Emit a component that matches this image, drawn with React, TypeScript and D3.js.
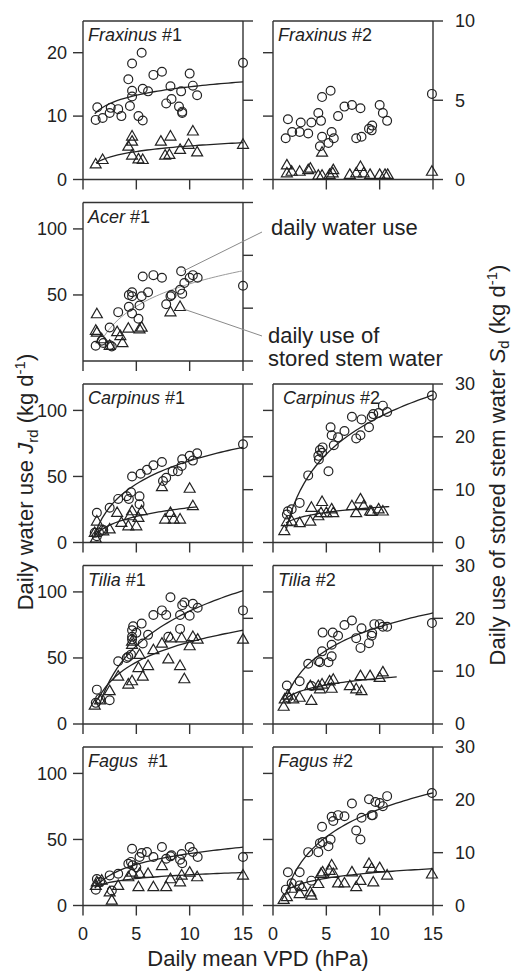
import React from 'react';
import * as d3 from 'd3';

type Pt = [number, number];
type Fit = [number, number, number, number]; // a, b, xFrom, xTo  (y = a + b ln x)

const X_DOMAIN: [number, number] = [0, 15];
const X_TICKS = [0, 5, 10, 15];

const ROW_LEFT_DOMAINS: [number, number][] = [[0, 25], [0, 120], [0, 120], [0, 120], [0, 120]];
const ROW_LEFT_TICKS = [[0, 10, 20], [50, 100], [0, 50, 100], [0, 50, 100], [0, 50, 100]];
const ROW_RIGHT_DOMAINS: [number, number][] = [[0, 10], [0, 30], [0, 30], [0, 30], [0, 30]];
const ROW_RIGHT_TICKS = [[0, 5, 10], [0, 10, 20, 30], [0, 10, 20, 30], [0, 10, 20, 30], [0, 10, 20, 30]];

const fraxinus1Circles: Pt[] = [[1.19,9.4],[1.34,11.4],[1.84,9.7],[2.5,10.5],[2.6,11.3],[3.3,11.1],[3.6,10.0],[4.25,15.8],[4.4,11.6],[4.6,18.3],[4.6,14.0],[4.6,13.1],[5.2,10.0],[5.5,20.0],[5.6,9.3],[5.6,14.3],[6.1,13.9],[6.6,16.5],[7.4,17.0],[7.8,12.0],[8.2,14.7],[8.3,12.7],[9.2,13.9],[9.0,11.5],[9.3,10.7],[9.3,10.5],[10.0,16.7],[10.3,14.8],[10.7,13.3],[15,18.4]];
const fraxinus1Triangles: Pt[] = [[1.19,2.4],[1.84,3.1],[4.6,6.8],[4.6,6.0],[4.25,5.2],[4.6,3.8],[5.2,3.2],[5.6,3.1],[7.3,6.0],[8.2,6.8],[7.7,3.8],[8.1,3.9],[9.1,4.7],[10.3,7.6],[9.9,5.5],[10.7,4.3],[15,5.5]];
const fraxinus1Fits: Fit[] = [[10.2, 1.92, 1.1, 15], [2.37, 1.27, 1.2, 15]];

const fraxinus2Circles: Pt[] = [[1.19,2.6],[1.4,3.8],[1.8,3.0],[2.5,3.0],[2.6,3.6],[3.3,2.9],[3.6,3.6],[4.25,4.2],[4.5,3.7],[4.6,5.2],[4.6,2.7],[4.4,2.1],[5.2,2.3],[5.4,5.6],[5.5,3.0],[5.7,2.6],[6.1,4.0],[6.7,4.6],[7.4,4.7],[7.8,2.6],[8.3,2.7],[8.2,4.5],[9.0,3.2],[9.25,3.1],[9.3,3.4],[10.0,4.7],[10.3,4.2],[10.7,3.7],[14.9,5.4]];
const fraxinus2Triangles: Pt[] = [[1.3,0.9],[1.3,0.4],[1.75,0.5],[2.5,0.5],[3.5,0.7],[3.3,0.6],[4.6,1.7],[4.25,0.25],[4.6,0.25],[5.3,0.3],[5.65,0.6],[5.6,0.4],[7.2,0.3],[8.2,0.8],[7.8,0.4],[8.5,0.4],[9.1,0.3],[10.0,0.3],[10.5,0.3],[10.75,0.3],[14.9,0.5]];
const fraxinus2Fits: Fit[] = [];

const acer1Circles: Pt[] = [[1.19,11.6],[1.75,15.3],[1.9,13.6],[2.5,25.4],[2.5,12],[2.7,11],[3.3,37],[4.3,50],[4.6,52],[4.3,41],[4.6,36],[4.6,49],[5.2,32],[5.3,42],[5.5,49],[5.6,64],[6.1,52],[6.6,65],[7.4,63],[9.2,68],[7.8,43],[8.2,49],[8.3,50],[9.1,54],[9.3,51],[9.5,59],[10.0,63],[10.3,65],[10.75,63],[15,57]];
const acer1Triangles: Pt[] = [[1.3,35.5],[1.2,23],[1.3,21.6],[1.75,16.6],[2.5,11.6],[3.2,22],[3.5,19],[3.7,13.6],[4.25,24.6],[5.5,25.4],[5.3,24],[8.2,37],[9.1,41]];
const acer1Fits: Fit[] = [[2, 24.5, 2, 15]];

const carpinus1Circles: Pt[] = [[1.3,22.5],[1.1,7.3],[1.3,4.8],[2.5,26.3],[3.3,33],[4.1,35],[4.5,38],[4.6,50],[4.3,33],[5.3,35],[5.3,29],[5.4,52],[6.0,55],[6.6,58.5],[7.4,61],[7.5,46.6],[7.8,49],[8.4,54],[8.9,54],[9.25,58],[9.3,63],[10,65.6],[10.3,62],[10.7,67.6],[15,74.4],[1.5,7.6],[1.9,9.5]];
const carpinus1Triangles: Pt[] = [[1.1,7.3],[1.3,16],[1.9,8.6],[2.5,10],[3.2,22.5],[3.6,15],[4.25,12.4],[4.4,20],[4.6,23.8],[5.0,12.4],[5.2,18.7],[5.5,23.8],[7.4,42],[7.7,17.5],[8.2,22.5],[8.5,17.5],[9.1,17.5],[10,40.8],[10.3,27.6],[1.2,3]];
const carpinus1Fits: Fit[] = [[3.6, 25.3, 1.1, 15], [4.4, 9.55, 1.1, 10.7]];

const carpinus2Circles: Pt[] = [[1.3,5.3],[1.4,5.9],[1.75,6.3],[2.5,7.5],[3.3,12.7],[4.25,16.4],[4.4,17.5],[4.6,17],[4.3,15.7],[4.65,18],[5.2,13.5],[5.4,21.8],[5.5,20.3],[5.7,18.4],[6.1,19.9],[6.7,21.1],[7.4,23.8],[7.8,19.7],[8.2,20.3],[8.3,23.3],[9.0,21.8],[9.25,23.8],[9.4,24.3],[9.9,24.5],[10.3,25.9],[10.7,24.7],[14.9,27.8]];
const carpinus2Triangles: Pt[] = [[1.06,2.2],[1.3,3.9],[1.75,4.0],[2.5,3.7],[3.5,4.0],[3.6,6.6],[4.25,5.0],[4.6,7.7],[4.5,5.6],[5.0,5.6],[5.5,6.3],[5.65,5.6],[7.4,6.9],[7.8,5.6],[8.2,8.2],[8.5,6.9],[9.1,5.9],[9.25,5.8],[9.9,6.3],[10.3,5.9]];
const carpinus2Fits: Fit[] = [[0.3, 10.2, 1.2, 15], [3.43, 1.41, 1.2, 10.9]];

const tilia1Circles: Pt[] = [[1.3,26],[1.2,16],[1.6,19],[2.5,18],[3.3,47.5],[4.25,51],[4.5,52.5],[4.6,71],[4.6,64],[4.7,74],[5.0,69],[5.5,76],[5.6,61],[6.1,67.5],[6.6,82.5],[7.4,86],[7.8,82.5],[8.2,96],[8.0,66],[9.1,72],[9.1,82.5],[9.3,90],[9.5,92],[10,82],[10.3,91],[10.75,88],[15,86],[4.6,66],[4.1,50]];
const tilia1Triangles: Pt[] = [[1.1,14],[1.6,18],[2.5,25],[3.3,36],[4.25,30],[4.6,32.5],[4.6,62.5],[4.6,60],[5.2,42.5],[5.3,52.5],[5.6,36],[6.1,44],[6.6,56],[7.4,61],[8.0,49],[8.2,65],[9.1,44],[9.25,65],[9.5,34],[10,59],[10.3,66],[10.75,64],[15,64]];
const tilia1Fits: Fit[] = [[-2, 38, 1.5, 15], [11.4, 22, 1.4, 15]];

const tilia2Circles: Pt[] = [[1.3,7.3],[1.4,5],[2.5,8.1],[3.3,11.4],[3.6,7.2],[4.25,11.9],[4.4,11.7],[4.6,13.75],[4.65,17.3],[5.2,11.7],[5.5,12.8],[5.5,15],[5.6,17.3],[6.1,16.7],[6.7,18.75],[7.4,19.6],[7.8,16.25],[8.2,14.4],[8.3,18.1],[9.0,15.3],[9.25,16.7],[9.3,17.2],[9.5,18.9],[10,18.9],[10.3,18.4],[10.7,18.4],[14.9,19.1]];
const tilia2Triangles: Pt[] = [[1.0,3.3],[1.1,4.7],[1.4,5.4],[1.9,4.7],[2.5,5],[3.5,7.2],[3.6,4.4],[4.25,7.2],[4.6,7.5],[4.4,6.6],[5.3,8.1],[5.5,6.7],[5.65,8.4],[7.2,7.2],[7.8,6.6],[8.3,6.25],[8.2,9.1],[9.1,9.1],[10.0,8.75],[10.3,9.8]];
const tilia2Fits: Fit[] = [[3.6, 6.43, 1.3, 15], [4.5, 1.8, 1.0, 11.6]];

const fagus1Circles: Pt[] = [[1.2,12],[1.3,20],[1.6,17.7],[2.5,22.8],[2.7,11.4],[3.3,24],[4.25,31.6],[4.6,43],[4.5,33],[4.65,30.4],[5.0,29],[5.3,36.7],[5.5,39.7],[6.0,40.5],[6.6,36.7],[7.4,44.3],[7.8,35.4],[8.2,37.2],[8.3,38],[9.1,34.7],[9.3,32],[9.25,39],[10,44.3],[10.3,40.5],[10.75,36.7],[15,36.7]];
const fagus1Triangles: Pt[] = [[1.2,15],[1.3,17.7],[1.75,19],[2.7,3.8],[2.5,10],[3.3,15],[4.25,21.5],[4.6,25],[5.3,24],[5.2,14],[6.1,24],[6.6,14],[7.4,30],[7.8,14],[8.2,20],[9.1,17.7],[9.25,22.8],[10,25],[10.7,21.5],[15,22.8]];
const fagus1Fits: Fit[] = [[11.9, 11.9, 1.1, 15], [13.6, 4.2, 1.1, 15]];

const fagus2Circles: Pt[] = [[1.2,3.0],[1.4,6.3],[1.75,4.2],[2.5,6.3],[2.5,3.8],[3.3,10.1],[3.6,4.7],[4.25,10.1],[4.4,11.8],[4.6,14.9],[4.65,12],[5.2,11.2],[5.4,12.5],[5.5,16.8],[5.65,16],[6.1,17.1],[6.7,16.9],[7.4,19.3],[7.8,14.2],[8.2,12.5],[8.3,16.6],[9.0,20.1],[9.25,17.1],[9.35,17.1],[9.6,19.6],[10.0,19.4],[10.3,18.8],[10.7,20.7],[14.9,21.3]];
const fagus2Triangles: Pt[] = [[1.0,1.1],[1.3,1.6],[1.75,3.2],[2.5,2.2],[2.7,3.5],[3.5,2.5],[3.6,1.9],[4.25,4.1],[4.5,6.0],[4.65,6.3],[5.5,7.6],[5.3,6.6],[5.65,6.0],[6.1,4.2],[6.7,4.2],[7.4,6.3],[7.8,3.5],[8.2,4.7],[9.0,7.9],[9.25,7.0],[9.4,4.4],[10.0,7.1],[10.7,5.7],[14.9,5.9]];
const fagus2Fits: Fit[] = [[0.8, 7.58, 1.3, 15], [2.5, 1.65, 1.2, 15]];

const panels = [
  { row: 0, col: 0, genus: 'Fraxinus', tag: ' #1', circles: fraxinus1Circles, triangles: fraxinus1Triangles, fits: fraxinus1Fits, gray: false },
  { row: 0, col: 1, genus: 'Fraxinus', tag: ' #2', circles: fraxinus2Circles, triangles: fraxinus2Triangles, fits: fraxinus2Fits, gray: false },
  { row: 1, col: 0, genus: 'Acer', tag: ' #1', circles: acer1Circles, triangles: acer1Triangles, fits: acer1Fits, gray: true },
  { row: 2, col: 0, genus: 'Carpinus', tag: ' #1', circles: carpinus1Circles, triangles: carpinus1Triangles, fits: carpinus1Fits, gray: false },
  { row: 2, col: 1, genus: 'Carpinus', tag: ' #2', circles: carpinus2Circles, triangles: carpinus2Triangles, fits: carpinus2Fits, gray: false },
  { row: 3, col: 0, genus: 'Tilia', tag: ' #1', circles: tilia1Circles, triangles: tilia1Triangles, fits: tilia1Fits, gray: false },
  { row: 3, col: 1, genus: 'Tilia', tag: ' #2', circles: tilia2Circles, triangles: tilia2Triangles, fits: tilia2Fits, gray: false },
  { row: 4, col: 0, genus: 'Fagus', tag: '  #1', circles: fagus1Circles, triangles: fagus1Triangles, fits: fagus1Fits, gray: false },
  { row: 4, col: 1, genus: 'Fagus', tag: ' #2', circles: fagus2Circles, triangles: fagus2Triangles, fits: fagus2Fits, gray: false },
];

const W = 514;
const H = 973;
const COL_X: [number, number][] = [[83, 243], [273, 433]];
const ROW_TOP0 = 21;
const ROW_STEP = 181.5;
const PANEL_H = 158.5;
const FONT = '"Liberation Sans", Arial, Helvetica, sans-serif';
const INK = '#222';
const AXIS = '#333';
const TICK = 10;

const tri = d3.symbol().type(d3.symbolTriangle).size(52);

function Panel({ p }: { p: typeof panels[number] }) {
  const [x0, x1] = COL_X[p.col];
  const top = ROW_TOP0 + p.row * ROW_STEP;
  const bottom = top + PANEL_H;
  const x = d3.scaleLinear().domain(X_DOMAIN).range([x0, x1]);
  const yL = d3.scaleLinear().domain(ROW_LEFT_DOMAINS[p.row]).range([bottom, top]);
  const yR = d3.scaleLinear().domain(ROW_RIGHT_DOMAINS[p.row]).range([bottom, top]);
  const y = p.col === 0 ? yL : yR;
  const line = d3.line<Pt>().x(d => x(d[0])).y(d => y(d[1])).curve(d3.curveLinear);
  const isLast = p.row === 4;
  return (
    <g>
      <g stroke={AXIS} strokeWidth={1.4} fill="none">
        <line x1={x0} x2={x1} y1={top} y2={top} />
        <line x1={x0} x2={x1} y1={bottom} y2={bottom} />
        <line x1={x0} x2={x0} y1={top} y2={bottom} />
        <line x1={x1} x2={x1} y1={top} y2={bottom} />
        {ROW_LEFT_TICKS[p.row].map(v => (
          <line key={'l' + v} x1={x0 - TICK} x2={x0} y1={yL(v)} y2={yL(v)} />
        ))}
        {ROW_RIGHT_TICKS[p.row].map(v => (
          <line key={'r' + v} x1={x1} x2={x1 + TICK} y1={yR(v)} y2={yR(v)} />
        ))}
        {X_TICKS.map(v => (
          <line key={'x' + v} x1={x(v)} x2={x(v)} y1={bottom} y2={bottom + TICK} />
        ))}
      </g>
      <g fontFamily={FONT} fontSize={18} fill={INK}>
        {p.col === 0 && ROW_LEFT_TICKS[p.row].map(v => (
          <text key={'lt' + v} x={x0 - 16} y={yL(v)} dy="0.35em" textAnchor="end">{v}</text>
        ))}
        {p.col === 1 && ROW_RIGHT_TICKS[p.row].map(v => (
          <text key={'rt' + v} x={x1 + 22} y={yR(v)} dy="0.35em" textAnchor="start">{v}</text>
        ))}
        {isLast && X_TICKS.map(v => (
          <text key={'xt' + v} x={x(v)} y={bottom + 34} textAnchor="middle">{v}</text>
        ))}
      </g>
      <text x={x0 + (p.genus === 'Carpinus' && p.col === 1 ? 10 : 5)} y={top + 20} fontFamily={FONT} fontSize={18} fill={INK}>
        <tspan fontStyle="italic">{p.genus}</tspan>
        <tspan style={{ whiteSpace: 'pre' }}>{p.tag}</tspan>
      </text>
      {p.fits.map((f, i) => {
        const [a, b, xa, xb] = f;
        const pts: Pt[] = d3.range(0, 41).map(k => {
          const xv = xa + (xb - xa) * k / 40;
          return [xv, a + b * Math.log(xv)] as Pt;
        });
        return (
          <path key={'f' + i} d={line(pts) || ''} fill="none"
            stroke={p.gray ? '#9a9a9a' : INK} strokeWidth={p.gray ? 1 : 1.3} />
        );
      })}
      <g fill="none" stroke={INK} strokeWidth={1.2}>
        {p.circles.map((d, i) => (
          <circle key={'c' + i} cx={x(d[0])} cy={y(d[1])} r={4.4} />
        ))}
        {p.triangles.map((d, i) => (
          <path key={'t' + i} d={tri() || ''} transform={`translate(${x(d[0])},${y(d[1]) + 0.5})`} />
        ))}
      </g>
    </g>
  );
}

export default function App() {
  const acerTop = ROW_TOP0 + 1 * ROW_STEP;
  const xA = d3.scaleLinear().domain(X_DOMAIN).range(COL_X[0]);
  const yA = d3.scaleLinear().domain(ROW_LEFT_DOMAINS[1]).range([acerTop + PANEL_H, acerTop]);
  const leaderCircle = acer1Circles[19];
  const leaderTri = acer1Triangles[12];
  return (
    <svg width={W} height={H} viewBox={`0 0 ${W} ${H}`}
      style={{ position: 'absolute', left: 0, top: 0, background: '#fff' }}>
      <rect x={0} y={0} width={W} height={H} fill="#fff" />
      {panels.map((p, i) => <Panel key={i} p={p} />)}

      <g stroke="#8a8a8a" strokeWidth={1} fill="none">
        <line x1={xA(leaderCircle[0]) + 2} y1={yA(leaderCircle[1])} x2={262} y2={232} />
        <line x1={xA(leaderTri[0]) + 3} y1={yA(leaderTri[1]) + 2} x2={262} y2={336} />
      </g>
      <g fontFamily={FONT} fontSize={22} fill={INK}>
        <text x={271} y={235}>daily water use</text>
        <text x={268} y={343}>daily use of</text>
        <text x={268} y={366}>stored stem water</text>
      </g>

      <text x={258} y={966} textAnchor="middle" fontFamily={FONT} fontSize={22} fill={INK}>Daily mean VPD (hPa)</text>
      <text transform="translate(33,482) rotate(-90)" textAnchor="middle" fontFamily={FONT} fontSize={22} fill={INK}>
        <tspan>Daily water use </tspan>
        <tspan fontStyle="italic">J</tspan>
        <tspan fontSize={15} dy={5}>rd</tspan>
        <tspan dy={-5}> (kg d</tspan>
        <tspan fontSize={15} dy={-8}>-1</tspan>
        <tspan dy={8}>)</tspan>
      </text>
      <text transform="translate(505,465) rotate(-90)" textAnchor="middle" fontFamily={FONT} fontSize={22} fill={INK}>
        <tspan>Daily use of stored stem water </tspan>
        <tspan fontStyle="italic">S</tspan>
        <tspan fontSize={15} dy={4}>d</tspan>
        <tspan dy={-4}> (kg d</tspan>
        <tspan fontSize={15} dy={-8}>-1</tspan>
        <tspan dy={8}>)</tspan>
      </text>
    </svg>
  );
}
